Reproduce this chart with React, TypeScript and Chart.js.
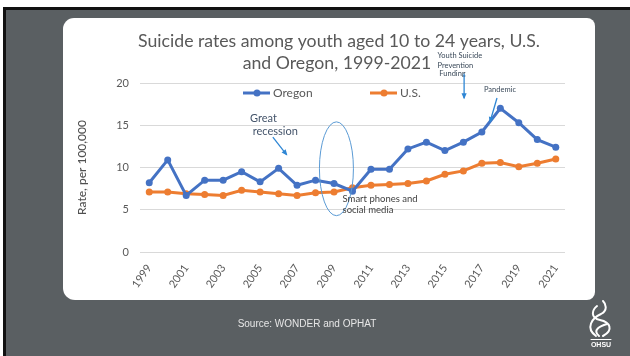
import React, { useEffect, useRef } from "react";
import { Chart, registerables } from "chart.js";
Chart.register(...registerables);

const years = ["1999","2000","2001","2002","2003","2004","2005","2006","2007","2008","2009","2010","2011","2012","2013","2014","2015","2016","2017","2018","2019","2020","2021"];
const oregonRates = [8.2, 10.9, 6.7, 8.5, 8.5, 9.5, 8.3, 9.9, 7.9, 8.5, 8.1, 7.2, 9.8, 9.8, 12.2, 13.0, 12.0, 13.0, 14.2, 17.0, 15.3, 13.3, 12.4];
const usRates = [7.1, 7.1, 6.9, 6.8, 6.7, 7.3, 7.1, 6.9, 6.7, 7.0, 7.1, 7.6, 7.9, 8.0, 8.1, 8.4, 9.2, 9.6, 10.5, 10.6, 10.1, 10.5, 11.0];
const yMin = 0;
const yMax = 20;
const yStep = 5;

const titleLines = ["Suicide rates among youth aged 10 to 24 years, U.S.", "and Oregon, 1999-2021"];
const yTitle = "Rate, per 100,000";
const sourceText = "Source: WONDER and OPHAT";

const OREGON = "#4472c4";
const US = "#ed7d31";
const TEXT = "#595959";
const FONT = "Lato, 'Open Sans', sans-serif";

const decorPlugin = {
  id: "decor",
  beforeDraw(chart: any) {
    const ctx = chart.ctx;
    const W = chart.width, H = chart.height;
    ctx.save();
    ctx.fillStyle = "#ffffff";
    ctx.fillRect(0, 0, W, H);
    ctx.fillStyle = "#111111";
    ctx.fillRect(3, 7, W - 3, H - 7);
    ctx.fillStyle = "#5a5f62";
    ctx.fillRect(6, 10, W - 6, H - 10);
    // white panel
    ctx.fillStyle = "#ffffff";
    ctx.beginPath();
    (ctx as any).roundRect(63, 18, 595 - 63, 300 - 18, [11, 8, 8, 12]);
    ctx.fill();
    ctx.restore();
  },
  afterDraw(chart: any) {
    const ctx = chart.ctx;
    const xs = chart.scales.x, ys = chart.scales.y;
    const px = (i: number) => xs.getPixelForValue(i);
    const py = (v: number) => ys.getPixelForValue(v);
    const ca = chart.chartArea;
    ctx.save();
    // title
    ctx.fillStyle = TEXT;
    ctx.textAlign = "center";
    ctx.textBaseline = "middle";
    ctx.font = `17.7px ${FONT}`;
    ctx.fillText(titleLines[0], 339, 41);
    ctx.fillText(titleLines[1], 337, 63);

    // legend
    const legend = [
      { label: "Oregon", color: OREGON, x: ca.left + 103 },
      { label: "U.S.", color: US, x: ca.left + 230 },
    ];
    const ly = ca.top + 10;
    ctx.font = `12px ${FONT}`;
    ctx.textAlign = "left";
    legend.forEach((l) => {
      ctx.strokeStyle = l.color;
      ctx.lineWidth = 3;
      ctx.beginPath();
      ctx.moveTo(l.x, ly);
      ctx.lineTo(l.x + 27, ly);
      ctx.stroke();
      ctx.fillStyle = l.color;
      ctx.beginPath();
      ctx.arc(l.x + 14, ly, 3.5, 0, Math.PI * 2);
      ctx.fill();
      ctx.fillStyle = TEXT;
      ctx.fillText(l.label, l.x + 30, ly + 0.5);
    });

    const arrow = (x1: number, y1: number, x2: number, y2: number, color: string, w: number) => {
      ctx.strokeStyle = color;
      ctx.fillStyle = color;
      ctx.lineWidth = w;
      ctx.beginPath();
      ctx.moveTo(x1, y1);
      ctx.lineTo(x2, y2);
      ctx.stroke();
      const a = Math.atan2(y2 - y1, x2 - x1);
      const hl = 5, hw = 2.6;
      ctx.beginPath();
      ctx.moveTo(x2 + Math.cos(a) * 1, y2 + Math.sin(a) * 1);
      ctx.lineTo(x2 - Math.cos(a) * hl - Math.sin(a) * hw, y2 - Math.sin(a) * hl + Math.cos(a) * hw);
      ctx.lineTo(x2 - Math.cos(a) * hl + Math.sin(a) * hw, y2 - Math.sin(a) * hl - Math.cos(a) * hw);
      ctx.closePath();
      ctx.fill();
    };

    // Great recession
    ctx.fillStyle = "#44546a";
    ctx.font = `11px ${FONT}`;
    ctx.textAlign = "left";
    ctx.fillText("Great", px(5.45), py(15.85));
    ctx.fillText("recession", px(5.6), py(14.3));
    arrow(px(6.69), py(13.6), px(7.44), py(11.5), "#2e86d4", 1.3);

    // ellipse
    ctx.strokeStyle = "#5b9bd5";
    ctx.lineWidth = 1;
    ctx.beginPath();
    const ex = px(10.13), ey = py(9.85);
    const rx = px(10.13 + 0.92) - ex, ry = py(9.85) - py(9.85 + 5.55);
    ctx.ellipse(ex, ey, rx, ry, 0, 0, Math.PI * 2);
    ctx.stroke();

    // Smart phones
    ctx.fillStyle = "#404040";
    ctx.font = `9.5px ${FONT}`;
    ctx.fillText("Smart phones and", px(10.46), py(6.27));
    ctx.fillText("social media", px(10.46), py(4.97));

    // Youth Suicide Prevention Funding
    ctx.fillStyle = "#3b4a5a";
    ctx.font = `7.5px ${FONT}`;
    ctx.fillText("Youth Suicide", px(15.6), py(23.2));
    ctx.fillText("Prevention", px(15.6), py(22.1));
    ctx.fillText("Funding", px(15.7), py(21.07));
    arrow(px(17.04), py(21.1), px(17.04), py(18.2), "#2e86d4", 1.3);

    // Pandemic
    ctx.fillStyle = "#3b4a5a";
    ctx.textAlign = "center";
    ctx.fillText("Pandemic", px(18.98), py(19.17));
    arrow(px(18.82), py(18.22), px(18.44), py(15.38), "#2e86d4", 1.3);

    // source
    ctx.fillStyle = "#e6e6e6";
    ctx.font = `10px 'Liberation Sans', Arial, sans-serif`;
    ctx.fillText(sourceText, 307, 324);

    // OHSU logo
    ctx.strokeStyle = "#ffffff";
    ctx.fillStyle = "#ffffff";
    ctx.lineWidth = 2;
    ctx.lineCap = "round";
    ctx.beginPath();
    ctx.moveTo(596, 336);
    ctx.bezierCurveTo(585, 328, 592, 318, 601, 314);
    ctx.bezierCurveTo(608, 310, 606, 304, 603, 301);
    ctx.stroke();
    ctx.beginPath();
    ctx.moveTo(603, 336);
    ctx.bezierCurveTo(614, 330, 610, 322, 600, 320);
    ctx.bezierCurveTo(590, 318, 592, 310, 597, 306);
    ctx.stroke();
    ctx.beginPath();
    ctx.moveTo(599, 336);
    ctx.bezierCurveTo(592, 330, 600, 326, 607, 324);
    ctx.stroke();
    ctx.lineWidth = 1;
    ctx.beginPath();
    ctx.moveTo(591, 339.5);
    ctx.lineTo(611, 339.5);
    ctx.stroke();
    ctx.font = `bold 7px 'Liberation Sans', Arial, sans-serif`;
    ctx.textAlign = "center";
    ctx.fillText("OHSU", 601, 345);
    ctx.restore();
  },
};

export default function App() {
  const ref = useRef<HTMLCanvasElement | null>(null);
  useEffect(() => {
    if (!ref.current) return;
    const chart = new Chart(ref.current, {
      type: "line",
      data: {
        labels: years,
        datasets: [
          {
            label: "Oregon",
            data: oregonRates,
            borderColor: OREGON,
            backgroundColor: OREGON,
            borderWidth: 3,
            pointRadius: 3.5,
            pointBackgroundColor: OREGON,
            pointBorderWidth: 0,
            tension: 0,
          },
          {
            label: "U.S.",
            data: usRates,
            borderColor: US,
            backgroundColor: US,
            borderWidth: 3,
            pointRadius: 3.5,
            pointBackgroundColor: US,
            pointBorderWidth: 0,
            tension: 0,
          },
        ],
      },
      options: {
        responsive: false,
        animation: false,
        devicePixelRatio: 1,
        layout: { padding: { left: 75, right: 65, top: 83, bottom: 64 } },
        plugins: { legend: { display: false }, tooltip: { enabled: false }, title: { display: false } },
        scales: {
          x: {
            offset: true,
            grid: { display: false, drawTicks: false },
            border: { display: false },
            afterFit: (s: any) => { s.height = 40; },
            ticks: {
              autoSkip: false,
              minRotation: 55,
              maxRotation: 55,
              padding: 10,
              color: TEXT,
              font: { family: FONT, size: 11 },
              callback: (_v: any, i: number) => (i % 2 === 0 ? years[i] : null),
            },
          },
          y: {
            min: yMin,
            max: yMax,
            afterFit: (s: any) => { s.width = 65; },
            grid: { color: "#d9d9d9", lineWidth: 1, drawTicks: false },
            border: { display: false },
            ticks: {
              stepSize: yStep,
              padding: 11,
              color: TEXT,
              font: { family: FONT, size: 11 },
            },
            title: {
              display: true,
              text: yTitle,
              color: "#505050",
              font: { family: FONT, size: 12, weight: "500" },
              padding: 0,
            },
          },
        },
      },
      plugins: [decorPlugin],
    });
    return () => chart.destroy();
  }, []);
  return (
    <div style={{ position: "fixed", left: 0, top: 0, width: 630, height: 356 }}>
      <canvas ref={ref} width={630} height={356} style={{ display: "block", width: 630, height: 356 }} />
    </div>
  );
}
